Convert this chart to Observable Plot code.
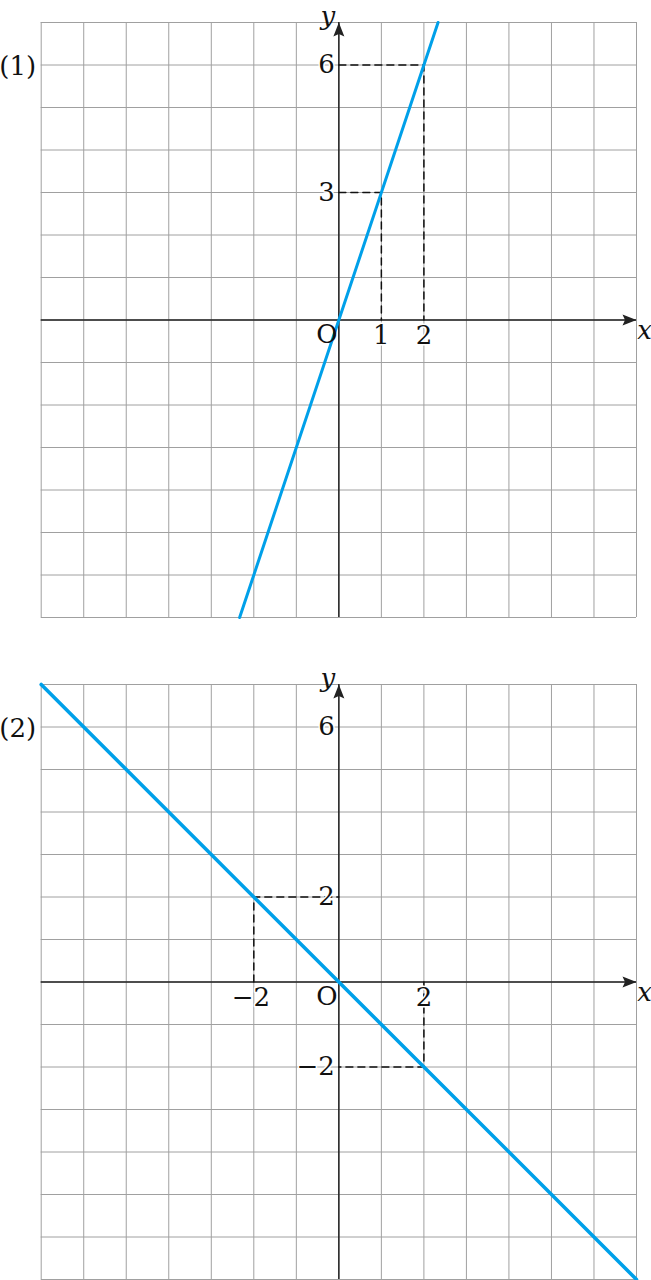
<!DOCTYPE html>
<html>
<head>
<meta charset="utf-8">
<script src="https://cdn.jsdelivr.net/npm/d3@7"></script>
<script src="https://cdn.jsdelivr.net/npm/@observablehq/plot@0.6"></script>
<style>
  html, body { margin: 0; padding: 0; background: #fff; }
  #wrap { width: 651px; }
  #wrap svg { display: block; }
</style>
</head>
<body>
<div id="wrap"></div>
<script>
// ---- data ----
const gridValues = [-7, -6, -5, -4, -3, -2, -1, 0, 1, 2, 3, 4, 5, 6, 7];

// panel (1): y = 3x
const line1X = [-7 / 3, 7 / 3];
const line1Y = [-7, 7];
const guide1X = [0, 2, 2, 0, 1, 1];
const guide1Y = [6, 6, 0, 3, 3, 0];
const guide1Id = ["a", "a", "a", "b", "b", "b"];
const yTicks1 = [6, 3];
const xTicks1 = [1, 2];

// panel (2): y = -x
const line2X = [-7, 7];
const line2Y = [7, -7];
const guide2X = [-2, -2, 0, 2, 2, 0];
const guide2Y = [0, 2, 2, 0, -2, -2];
const guide2Id = ["a", "a", "a", "b", "b", "b"];
const yTicks2 = [6, 2, -2];
const xTicks2 = [-2, 2];

const panelLabels = ["(1)", "(2)"];

// ---- styles ----
const FONT = "'DejaVu Serif', 'Liberation Serif', serif";
const BLUE = "#00a0e9";
const FS = 26;
const fmt = d => d < 0 ? "\u2212" + Math.abs(d) : String(d);

const arrowHead = {
  draw(ctx) {
    ctx.moveTo(0, 0);
    ctx.lineTo(-5.5, 14);
    ctx.lineTo(0, 11.5);
    ctx.lineTo(5.5, 14);
    ctx.closePath();
  }
};

function panel({lineX, lineY, lineWidth, gX, gY, gId, yTicks, xTicks, label, marginTop, marginBottom}) {
  const lineData = lineX.map((x, i) => ({x, y: lineY[i]}));
  const guideData = gX.map((x, i) => ({x, y: gY[i], id: gId[i]}));
  const labelStyle = {fontSize: FS, fill: "#111", stroke: "white", strokeWidth: 3, paintOrder: "stroke"};
  return Plot.plot({
    width: 651,
    height: 640,
    marginLeft: 40.7,
    marginRight: 15,
    marginTop,
    marginBottom,
    x: {domain: [-7, 7], axis: null},
    y: {domain: [-7, 7], axis: null},
    style: {fontFamily: FONT, fontSize: `${FS}px`, background: "white", overflow: "visible"},
    marks: [
      Plot.ruleX(gridValues, {y1: -7, y2: 7, stroke: "#a0a0a0", strokeWidth: 1}),
      Plot.ruleY(gridValues, {x1: -7, x2: 7, stroke: "#a0a0a0", strokeWidth: 1}),
      // axes
      Plot.ruleY([0], {x1: -7, x2: 7, stroke: "#222", strokeWidth: 1.5}),
      Plot.ruleX([0], {y1: -7, y2: 7, stroke: "#222", strokeWidth: 1.5}),
      Plot.dot([{x: 7, y: 0, r: 90}, {x: 0, y: 7, r: 0}], {
        x: "x", y: "y", symbol: arrowHead, rotate: "r", fill: "#222", stroke: "none"
      }),
      // dashed guides
      Plot.line(guideData, {x: "x", y: "y", z: "id", stroke: "#111", strokeWidth: 1.5, strokeDasharray: "7,5"}),
      // function line
      Plot.line(lineData, {x: "x", y: "y", stroke: BLUE, strokeWidth: lineWidth}),
      // tick labels
      Plot.text(yTicks, {x: 0, y: d => d, text: fmt, textAnchor: "end", dx: -4, ...labelStyle}),
      Plot.text(xTicks.filter(d => d > 0), {x: d => d, y: 0, text: fmt, dy: 16, ...labelStyle}),
      Plot.text(xTicks.filter(d => d < 0), {x: d => d, y: 0, text: fmt, dy: 16, dx: -3, ...labelStyle}),
      Plot.text(["O"], {x: 0, y: 0, text: d => d, dx: -12, dy: 15, fontSize: FS, fill: "#111"}),
      Plot.text(["x"], {x: 7, y: 0, text: d => d, dx: 8, dy: 11, fontSize: FS, fontStyle: "italic", fill: "#111"}),
      Plot.text(["y"], {x: 0, y: 7, text: d => d, dx: -11, dy: -6, fontSize: FS, fontStyle: "italic", fill: "#111"}),
      Plot.text([label], {x: -7, y: 6, text: d => d, dx: -23.5, dy: 2, fontSize: 26, fill: "#111"})
    ]
  });
}

const wrap = document.getElementById("wrap");
wrap.append(panel({
  lineX: line1X, lineY: line1Y, lineWidth: 3,
  gX: guide1X, gY: guide1Y, gId: guide1Id,
  yTicks: yTicks1, xTicks: xTicks1, label: panelLabels[0],
  marginTop: 22, marginBottom: 23
}));
wrap.append(panel({
  lineX: line2X, lineY: line2Y, lineWidth: 3.6,
  gX: guide2X, gY: guide2Y, gId: guide2Id,
  yTicks: yTicks2, xTicks: xTicks2, label: panelLabels[1],
  marginTop: 44, marginBottom: 1
}));
</script>
</body>
</html>
